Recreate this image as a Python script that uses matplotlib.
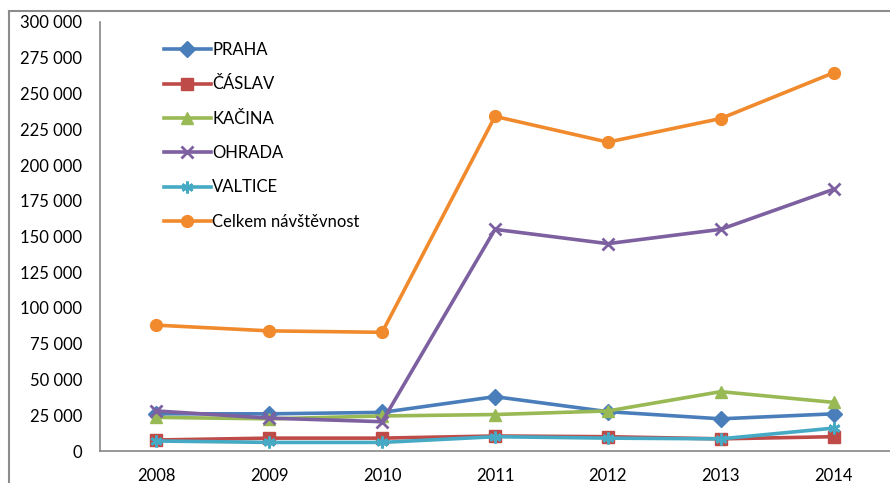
import matplotlib.pyplot as plt
from matplotlib.lines import Line2D
from matplotlib.ticker import FuncFormatter

plt.rcParams['font.family'] = ['Lato', 'DejaVu Sans']

roky = ['2008', '2009', '2010', '2011', '2012', '2013', '2014']
praha = [26000, 26000, 27000, 38000, 27500, 22500, 26000]
caslav = [7700, 9000, 9000, 10500, 10000, 8500, 10000]
kacina = [23500, 22500, 24500, 25500, 28000, 41500, 34000]
ohrada = [28000, 23000, 20500, 155000, 145000, 155000, 183000]
valtice = [7000, 6000, 6000, 10000, 9000, 8500, 16000]
celkem = [88000, 84000, 83000, 234000, 216000, 232500, 264500]

serie = [
    ('PRAHA', praha, '#4a7ebb', 'D'),
    ('ČÁSLAV', caslav, '#be4b48', 's'),
    ('KAČINA', kacina, '#98b954', '^'),
    ('OHRADA', ohrada, '#7d60a0', 'x'),
    ('VALTICE', valtice, '#46aac5', (6, 2, 0)),
    ('Celkem návštěvnost', celkem, '#f08a2c', 'o'),
]

fig = plt.figure(figsize=(8.9, 4.83), dpi=100)
ax = fig.add_axes([100 / 890, 1 - 451 / 483, 1 - 100 / 890, (451 - 22) / 483])

x = range(len(roky))
for nazev, hodnoty, barva, znacka in serie:
    ax.plot(x, hodnoty, color=barva, lw=2.6, marker=znacka, markersize=8.5,
            markeredgewidth=2 if znacka in ('x', (6, 2, 0)) else 1,
            markeredgecolor=barva, label=nazev)

ax.set_xlim(-0.5, 6.5)
ax.set_ylim(0, 300000)
ax.set_yticks(range(0, 300001, 25000))
ax.yaxis.set_major_formatter(FuncFormatter(lambda v, p: f'{int(v):,}'.replace(',', ' ')))
ax.set_xticks(list(x))
ax.set_xticklabels(roky)
ax.tick_params(length=0, labelsize=12, colors='black')
ax.tick_params(axis='y', pad=13)
ax.tick_params(axis='x', pad=12)
for s in ('top', 'right'):
    ax.spines[s].set_visible(False)
for s in ('left', 'bottom'):
    ax.spines[s].set_color('#868686')
    ax.spines[s].set_linewidth(1.2)

ax.legend(loc='upper left', bbox_to_anchor=(164 / 890, 1 - 42 / 483),
          bbox_transform=fig.transFigure, frameon=False, fontsize=12,
          labelspacing=1.1, handlelength=2.8, handletextpad=0.1,
          borderpad=0, borderaxespad=0)

# vnejsi ramecek grafu
fig.add_artist(Line2D([9 / 890, 9 / 890], [0, 1 - 11 / 483], color='#8c8c8c', lw=1.5))
fig.add_artist(Line2D([9 / 890, 1], [1 - 11 / 483, 1 - 11 / 483], color='#8c8c8c', lw=1.5))

fig.savefig('out.png', dpi=100)
